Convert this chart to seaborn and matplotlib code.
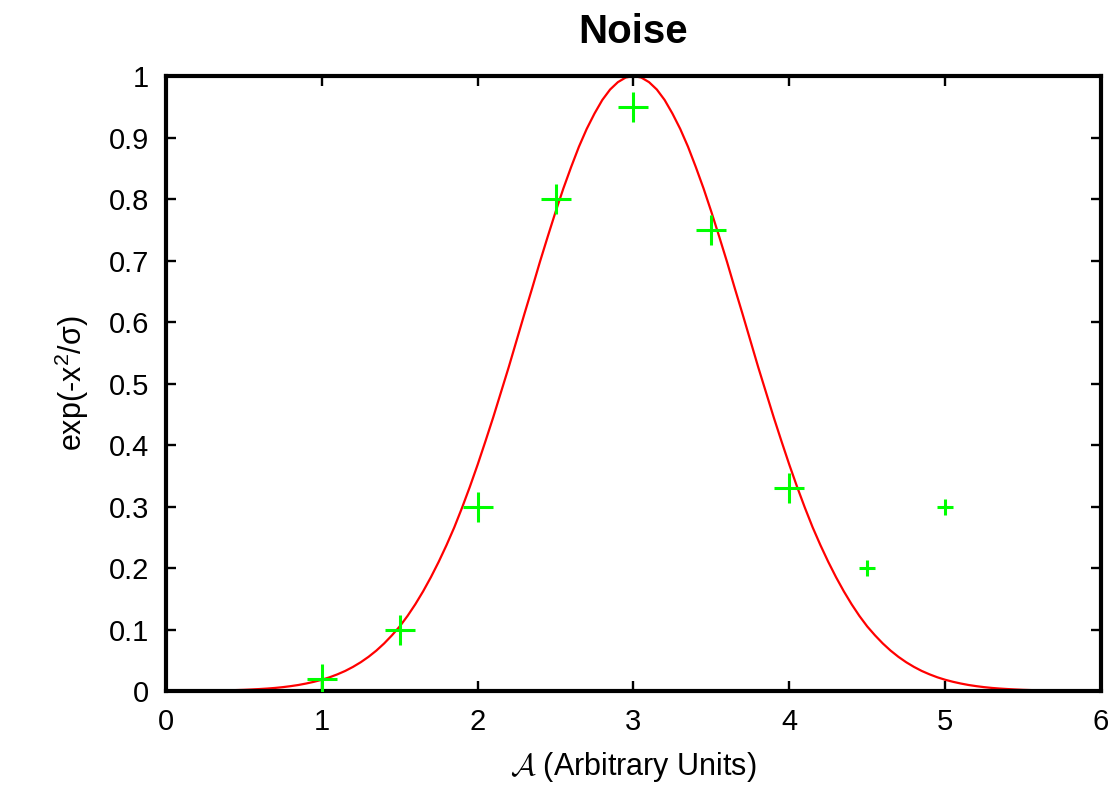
import numpy as np
import pandas as pd
import matplotlib
matplotlib.use('Agg')
import matplotlib.pyplot as plt
import seaborn as sns

# curve, x from 0 to 6 in steps of 0.05
curve_x = [round(i * 0.05, 2) for i in range(121)]
curve_y = [
    0.0001, 0.0002, 0.0002, 0.0003, 0.0004, 0.0005, 0.0007, 0.0009, 0.0012, 0.0015,
    0.0019, 0.0025, 0.0032, 0.0040, 0.0050, 0.0063, 0.0079, 0.0098, 0.0122, 0.0150,
    0.0183, 0.0223, 0.0271, 0.0326, 0.0392, 0.0468, 0.0556, 0.0657, 0.0773, 0.0905,
    0.105, 0.122, 0.141, 0.162, 0.185, 0.210, 0.237, 0.266, 0.298, 0.332,
    0.368, 0.406, 0.445, 0.486, 0.527, 0.570, 0.613, 0.655, 0.698, 0.739,
    0.779, 0.817, 0.852, 0.885, 0.914, 0.939, 0.961, 0.978, 0.990, 0.9975,
    1.000,
    0.9975, 0.990, 0.978, 0.961, 0.939, 0.914, 0.885, 0.852, 0.817, 0.779,
    0.739, 0.698, 0.655, 0.613, 0.570, 0.527, 0.486, 0.445, 0.406, 0.368,
    0.332, 0.298, 0.266, 0.237, 0.210, 0.185, 0.162, 0.141, 0.122, 0.105,
    0.0905, 0.0773, 0.0657, 0.0556, 0.0468, 0.0392, 0.0326, 0.0271, 0.0223, 0.0183,
    0.0150, 0.0122, 0.0098, 0.0079, 0.0063, 0.0050, 0.0040, 0.0032, 0.0025, 0.0019,
    0.0015, 0.0012, 0.0009, 0.0007, 0.0005, 0.0004, 0.0003, 0.0002, 0.0002, 0.0001,
]

# noisy samples
pts_x = [1, 1.5, 2, 2.5, 3, 3.5, 4]
pts_y = [0.02, 0.1, 0.3, 0.8, 0.95, 0.75, 0.33]
# the last two are drawn with smaller crosses
small_x = [4.5, 5]
small_y = [0.2, 0.3]

xticks = [0, 1, 2, 3, 4, 5, 6]
yticks = [0, 0.1, 0.2, 0.3, 0.4, 0.5, 0.6, 0.7, 0.8, 0.9, 1]

sns.set_style('ticks')
plt.rcParams['font.family'] = ['Liberation Sans', 'DejaVu Sans']
plt.rcParams['mathtext.fontset'] = 'custom'
plt.rcParams['mathtext.rm'] = 'Liberation Sans'
plt.rcParams['mathtext.it'] = 'Liberation Sans:italic'
plt.rcParams['text.color'] = 'black'
plt.rcParams['axes.labelcolor'] = 'black'

fig = plt.figure(figsize=(11.19, 7.95), dpi=100)
ax = fig.add_axes([0.1483, 0.1308, 0.9839 - 0.1483, 0.9044 - 0.1308])

sns.lineplot(x=curve_x, y=curve_y, color='#ff0000', linewidth=1.6, ax=ax)
sns.scatterplot(x=pts_x, y=pts_y, marker='+', s=22**2, linewidth=2.2,
                color='#00ff00', ax=ax, zorder=3)
sns.scatterplot(x=small_x, y=small_y, marker='+', s=12**2, linewidth=2.2,
                color='#00ff00', ax=ax, zorder=3)

ax.set_xlim(0, 6)
ax.set_ylim(0, 1)
ax.set_xticks(xticks)
ax.set_yticks(yticks)
ax.set_xticklabels(['%g' % t for t in xticks])
ax.set_yticklabels(['%g' % t for t in yticks])
ax.tick_params(direction='in', length=7, width=1.7, labelsize=21, pad=12,
               top=True, right=True, colors='black')
for s in ax.spines.values():
    s.set_linewidth(3)
    s.set_color('black')

ax.set_title('Noise', fontsize=29, fontweight='bold', pad=24, color='black')
ax.set_xlabel(r'$\mathcal{A}$ (Arbitrary Units)', fontsize=22, labelpad=10,
              math_fontfamily='cm', color='black')
ax.set_ylabel(r'exp(-x$^{2}$/σ)', fontsize=22, labelpad=13, color='black')

fig.savefig('out.png', dpi=100)
